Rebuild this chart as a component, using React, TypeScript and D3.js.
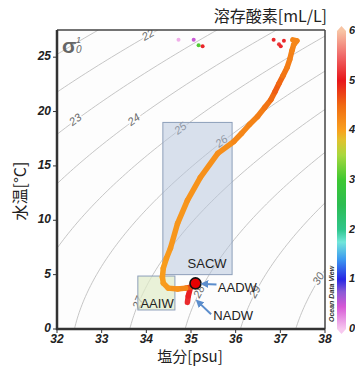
import React from 'react';
import * as d3 from 'd3';

// T-S profile (salinity psu, temperature degC, dissolved oxygen mL/L), deep -> surface
const profileSalt = [34.92, 34.94, 34.99, 34.88, 34.70, 34.49, 34.38, 34.36, 34.38, 34.45, 34.54, 34.70, 34.92, 35.21, 35.60, 35.96, 36.13, 36.31, 36.49, 36.65, 36.79, 36.88, 36.97, 37.06, 37.15, 37.21, 37.26, 37.30, 37.37, 37.28];
const profileTemp = [2.45, 3.05, 3.85, 3.76, 3.67, 3.76, 4.22, 4.77, 5.6, 6.5, 7.43, 9.72, 11.83, 13.94, 16.15, 17.25, 17.98, 18.81, 19.54, 20.37, 21.1, 21.83, 22.57, 23.3, 24.04, 24.77, 25.6, 26.15, 26.5, 26.6];
const profileO2 = [5.15, 5.1, 5.0, 4.3, 4.15, 4.1, 4.05, 4.05, 4.05, 4.05, 4.1, 4.1, 4.1, 4.15, 4.15, 4.2, 4.25, 4.25, 4.3, 4.35, 4.45, 4.55, 4.6, 4.45, 4.35, 4.3, 4.3, 4.25, 4.25, 4.25];

// scattered surface samples
const surfSalt = [34.72, 35.06, 35.17, 35.26, 36.85, 37.08, 36.97, 37.01];
const surfTemp = [26.6, 26.6, 26.1, 26.0, 26.6, 26.5, 26.2, 26.0];
const surfO2 = [0.1, 0.5, 3.1, 5.1, 5.1, 5.1, 5.2, 5.1];

// water mass boxes [S0, S1], [T0, T1]
const boxNames = ['SACW', 'AAIW'];
const boxSalt = [[34.37, 35.92], [33.81, 34.64]];
const boxTemp = [[5.0, 19.0], [1.75, 4.87]];

const saltTicks = [32, 33, 34, 35, 36, 37, 38];
const tempTicks = [0, 5, 10, 15, 20, 25];
const o2Ticks = [0, 1, 2, 3, 4, 5, 6];
const sigmaLevels = [21, 22, 23, 24, 25, 26, 27, 28, 29, 30];
const sigmaLabelLevels = [22, 23, 24, 25, 26, 27, 28, 29, 30];
const sigmaLabelTemps = [27, 19.2, 19.2, 18.4, 17.2, 2.4, 3.4, 3.4, 4.6];

const o2Stops = [0, 0.45, 0.75, 1, 1.4, 1.75, 2, 2.5, 3, 3.5, 3.8, 4, 4.5, 5, 5.5, 6];
const o2Colors = ['#f7c8ef', '#d658d6', '#8a5ad6', '#2626e4', '#3c98f0', '#72e6da', '#2fc68c', '#2cbd52', '#3ec832', '#a8d83e', '#e0c22e', '#f9a11e', '#f06a12', '#e8161a', '#f06868', '#f8c4a4'];

// UNESCO EOS-80 at surface pressure
function sigma0(S: number, T: number) {
  const rw = 999.842594 + 6.793952e-2 * T - 9.09529e-3 * T * T + 1.001685e-4 * T ** 3 - 1.120083e-6 * T ** 4 + 6.536332e-9 * T ** 5;
  const A = 0.824493 - 4.0899e-3 * T + 7.6438e-5 * T * T - 8.2467e-7 * T ** 3 + 5.3875e-9 * T ** 4;
  const B = -5.72466e-3 + 1.0227e-4 * T - 1.6546e-6 * T * T;
  return rw + A * S + B * S ** 1.5 + 4.8314e-4 * S * S - 1000;
}
function saltForSigma(sig: number, T: number) {
  let lo = 25, hi = 45;
  for (let i = 0; i < 40; i++) {
    const mid = (lo + hi) / 2;
    if (sigma0(mid, T) < sig) lo = mid; else hi = mid;
  }
  return (lo + hi) / 2;
}

const W = 355, H = 366;
const m = { left: 57, right: 325, top: 30, bottom: 329 };
const tickFont = '"Liberation Sans", Arial, sans-serif';
const cjkFont = '"Noto Sans CJK JP", "Noto Sans", sans-serif';

export default function App() {
  const x = d3.scaleLinear().domain([32, 38]).range([m.left, m.right]);
  const y = d3.scaleLinear().domain([0, 27.5]).range([m.bottom, m.top]);
  const cy = d3.scaleLinear().domain([0, 6]).range([329, 31]);
  const color = d3.scaleLinear<string>().domain(o2Stops).range(o2Colors).clamp(true);

  const temps = d3.range(0, 27.6, 0.25);
  const line = d3.line<[number, number]>().x(d => x(d[0])).y(d => y(d[1])).curve(d3.curveBasis);
  const contours = sigmaLevels.map(s => line(temps.map(t => [saltForSigma(s, t), t] as [number, number])));

  const labels = sigmaLabelLevels.map((s, i) => {
    const t = sigmaLabelTemps[i];
    const px = x(saltForSigma(s, t)), py = y(t);
    const dx = x(saltForSigma(s, t + 0.3)) - x(saltForSigma(s, t - 0.3));
    const dy = y(t + 0.3) - y(t - 0.3);
    return { s, px, py, ang: (Math.atan2(dy, dx) * 180) / Math.PI };
  });

  const segs = profileSalt.slice(1).map((_, i) => ({
    x1: x(profileSalt[i]), y1: y(profileTemp[i]),
    x2: x(profileSalt[i + 1]), y2: y(profileTemp[i + 1]),
    c: color((profileO2[i] + profileO2[i + 1]) / 2),
  }));

  const cbX = 337, cbW = 9;

  return (
    <svg width={W} height={H} style={{ position: 'absolute', left: 0, top: 0, background: '#fff' }}>
      <defs>
        <clipPath id="plot">
          <rect x={m.left} y={m.top} width={m.right - m.left} height={m.bottom - m.top} />
        </clipPath>
        <linearGradient id="cb" x1="0" y1="1" x2="0" y2="0">
          {o2Stops.map((v, i) => (
            <stop key={i} offset={v / 6} stopColor={o2Colors[i]} />
          ))}
        </linearGradient>
        <marker id="arr" viewBox="0 0 10 10" refX="5" refY="5" markerWidth="4" markerHeight="4" orient="auto">
          <path d="M0,0 L10,5 L0,10 z" fill="#5b8dcc" />
        </marker>
      </defs>

      <rect x={m.left} y={m.top} width={m.right - m.left} height={m.bottom - m.top} fill="#fdfdfd" />

      <g clipPath="url(#plot)">
        {contours.map((d, i) => (
          <path key={i} d={d || ''} fill="none" stroke="#b8b8b8" strokeWidth={0.8} />
        ))}
        {labels.map(l => (
          <text key={l.s} x={l.px} y={l.py} transform={`rotate(${l.ang},${l.px},${l.py})`}
            textAnchor="middle" dominantBaseline="middle" fontFamily={tickFont} fontStyle="italic"
            fontSize={11} fill="#6a6a6a" stroke="#fdfdfd" strokeWidth={3} paintOrder="stroke">{l.s}</text>
        ))}
      </g>

      {/* water mass boxes */}
      <rect x={x(boxSalt[0][0])} y={y(boxTemp[0][1])} width={x(boxSalt[0][1]) - x(boxSalt[0][0])}
        height={y(boxTemp[0][0]) - y(boxTemp[0][1])} fill="#b4c4dc" fillOpacity={0.5} stroke="#8d9fba" strokeWidth={1} />
      <rect x={x(boxSalt[1][0])} y={y(boxTemp[1][1])} width={x(boxSalt[1][1]) - x(boxSalt[1][0])}
        height={y(boxTemp[1][0]) - y(boxTemp[1][1])} fill="#dfebc8" fillOpacity={0.7} stroke="#8d9fba" strokeWidth={1} />

      {/* profile */}
      <g clipPath="url(#plot)">
        {segs.map((s, i) => (
          <line key={i} x1={s.x1} y1={s.y1} x2={s.x2} y2={s.y2} stroke={s.c} strokeWidth={5.5} strokeLinecap="round" />
        ))}
        {surfSalt.map((s, i) => (
          <circle key={i} cx={x(s)} cy={y(surfTemp[i])} r={2} fill={color(surfO2[i])} />
        ))}
        <circle cx={x(35.1)} cy={y(4.2)} r={5.5} fill="#e60000" stroke="#111" strokeWidth={1.6} />
      </g>

      {/* annotations */}
      <g fontFamily={tickFont} fontSize={13} fill="#222">
        <text x={x(35.36)} y={y(5.6)} textAnchor="middle">{boxNames[0]}</text>
        <text x={x(34.24)} y={y(1.95)} textAnchor="middle">{boxNames[1]}</text>
        <text x={x(35.6)} y={y(3.4)}>AADW</text>
        <text x={x(35.5)} y={y(0.85)}>NADW</text>
      </g>
      <line x1={x(35.57)} y1={y(4.1)} x2={x(35.3)} y2={y(4.15)} stroke="#5b8dcc" strokeWidth={2} markerEnd="url(#arr)" />
      <line x1={x(35.45)} y1={y(1.35)} x2={x(35.17)} y2={y(2.45)} stroke="#5b8dcc" strokeWidth={2} markerEnd="url(#arr)" />

      {/* sigma symbol */}
      <g fill="#666" fontFamily={tickFont}>
        <text x={62} y={53} fontSize={21} fontWeight="bold">σ</text>
        <text x={76} y={43} fontSize={9} fontStyle="italic">1</text>
        <text x={76} y={53} fontSize={10} fontStyle="italic">0</text>
      </g>

      {/* frame */}
      <line x1={m.left} y1={m.top} x2={m.right} y2={m.top} stroke="#444" strokeWidth={1.5} />
      <line x1={m.right} y1={m.top} x2={m.right} y2={m.bottom} stroke="#444" strokeWidth={1.5} />
      <line x1={m.left} y1={m.top} x2={m.left} y2={m.bottom + 1} stroke="#333" strokeWidth={2.5} />
      <line x1={m.left - 1} y1={m.bottom} x2={m.right} y2={m.bottom} stroke="#333" strokeWidth={2.5} />

      {tempTicks.map(t => (
        <g key={t}>
          <line x1={m.left - 4} x2={m.left} y1={y(t)} y2={y(t)} stroke="#333" strokeWidth={1} />
          <text x={m.left - 6} y={y(t)} textAnchor="end" dominantBaseline="middle" fontFamily={tickFont}
            fontWeight="bold" fontStyle="italic" fontSize={12} fill="#222">{t}</text>
        </g>
      ))}
      {saltTicks.map(s => (
        <g key={s}>
          <line x1={x(s)} x2={x(s)} y1={m.bottom} y2={m.bottom + 4} stroke="#333" strokeWidth={1} />
          <text x={x(s)} y={m.bottom + 14} textAnchor="middle" fontFamily={tickFont}
            fontWeight="bold" fontStyle="italic" fontSize={12} fill="#222">{s}</text>
        </g>
      ))}

      {/* axis titles */}
      <text x={190} y={362} textAnchor="middle" fontFamily={cjkFont} fontSize={15} fill="#222">塩分[psu]</text>
      <text transform="translate(26,191) rotate(-90)" textAnchor="middle" fontFamily={cjkFont} fontSize={16} fill="#222">水温[°C]</text>
      <text x={327} y={22} textAnchor="end" fontFamily={cjkFont} fontSize={16} fill="#222">溶存酸素[mL/L]</text>

      {/* colour bar */}
      <rect x={cbX} y={cy(6)} width={cbW} height={cy(0) - cy(6)} fill="url(#cb)" />
      <path d={`M${cbX},${cy(6)} L${cbX + cbW / 2},${cy(6) - 5} L${cbX + cbW},${cy(6)} Z`} fill={o2Colors[o2Colors.length - 1]} />
      <path d={`M${cbX},${cy(0)} L${cbX + cbW / 2},${cy(0) + 5} L${cbX + cbW},${cy(0)} Z`} fill={o2Colors[0]} />
      {o2Ticks.map(v => (
        <text key={v} x={349} y={cy(v)} dominantBaseline="middle" fontFamily={tickFont}
          fontWeight="bold" fontStyle="italic" fontSize={11} fill="#222">{v}</text>
      ))}
      <text transform="translate(334,322) rotate(-90)" fontFamily={tickFont} fontWeight="bold" fontStyle="italic"
        fontSize={7} fill="#333">Ocean Data View</text>
    </svg>
  );
}
